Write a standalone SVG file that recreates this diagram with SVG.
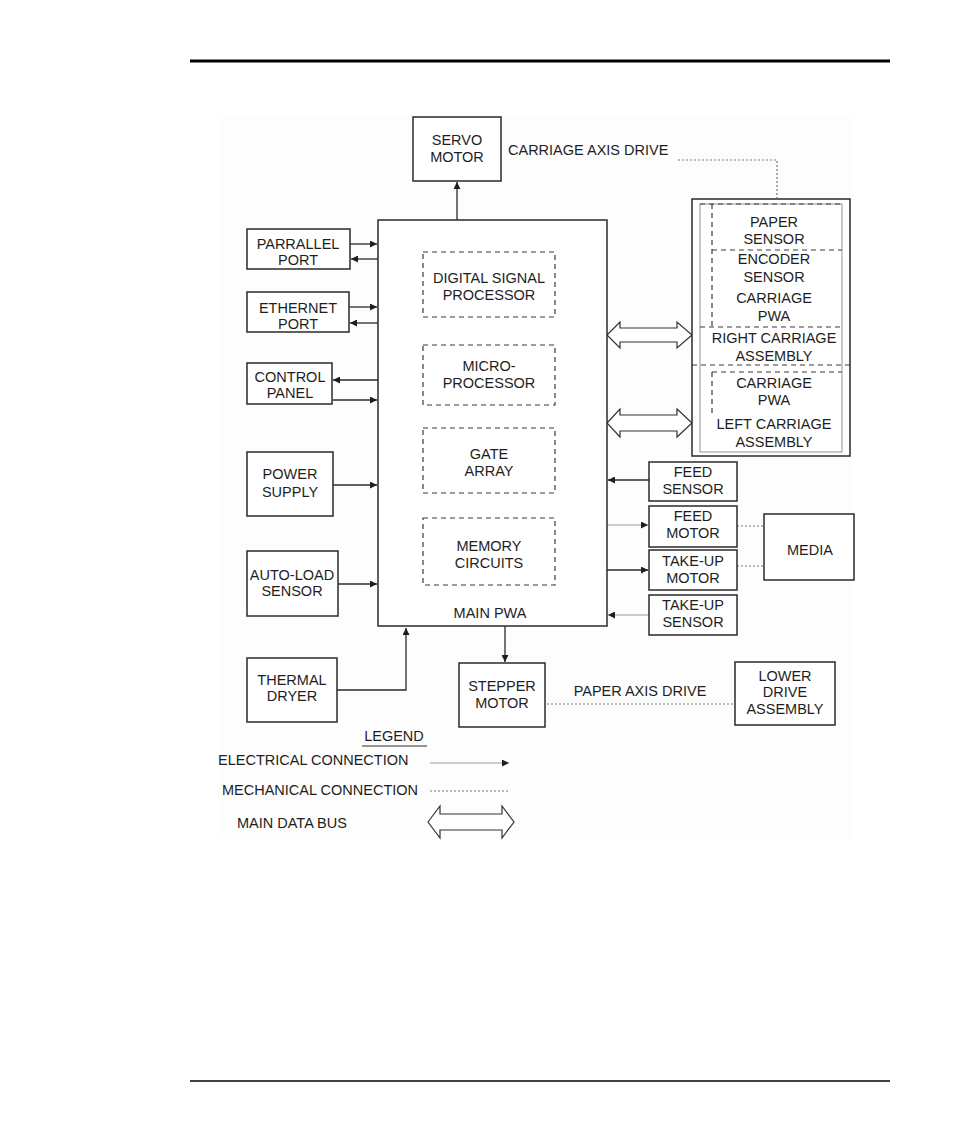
<svg xmlns="http://www.w3.org/2000/svg" width="954" height="1145" viewBox="0 0 954 1145">
<style>
  text { font-family: "Liberation Sans", Arial, sans-serif; font-size: 14.5px; fill: #1e1e1e; text-anchor: middle; }
  .box { fill: #ffffff; stroke: #2a2a2a; stroke-width: 1.5; }
  .inner { fill: none; stroke: #3a3a3a; stroke-width: 1.2; stroke-dasharray: 5 4; }
  .elec { fill: none; stroke: #2a2a2a; stroke-width: 1.3; marker-end: url(#ah); }
  .elecl { fill: none; stroke: #9a9a9a; stroke-width: 1.2; marker-end: url(#ah); }
  .mech { fill: none; stroke: #777; stroke-width: 1.2; stroke-dasharray: 2 2; }
  .bus { fill: #ffffff; stroke: #333; stroke-width: 1.2; }
  .rule { stroke: #000; }
  .left { text-anchor: start; }
</style>
<defs>
  <marker id="ah" viewBox="0 0 10 10" refX="10" refY="5" markerWidth="7" markerHeight="7" markerUnits="userSpaceOnUse" orient="auto">
    <path d="M0,0 L10,5 L0,10 Z" fill="#1e1e1e"/>
  </marker>
</defs>

<line class="rule" x1="190" y1="61" x2="890" y2="61" stroke-width="3"/>
<line class="rule" x1="190" y1="1081" x2="890" y2="1081" stroke-width="1.5"/>
<rect x="218" y="115" width="634" height="723" fill="#fdfdfd"/>

<g id="connectors">
  <line class="elec" x1="457" y1="220" x2="457" y2="182"/>
  <line class="elec" x1="350" y1="244" x2="377" y2="244"/>
  <line class="elec" x1="378" y1="259" x2="351" y2="259"/>
  <line class="elec" x1="349" y1="307" x2="377" y2="307"/>
  <line class="elec" x1="378" y1="323" x2="350" y2="323"/>
  <line class="elec" x1="378" y1="380" x2="333" y2="380"/>
  <line class="elec" x1="333" y1="400" x2="377" y2="400"/>
  <line class="elec" x1="333" y1="485" x2="377" y2="485"/>
  <line class="elec" x1="338" y1="584" x2="377" y2="584"/>
  <path class="elec" d="M337,690 H406 V628"/>
  <line class="elec" x1="505" y1="626" x2="505" y2="662"/>
  <line class="elec" x1="649" y1="480" x2="608" y2="480"/>
  <line class="elecl" x1="607" y1="525" x2="648" y2="525"/>
  <line class="elec" x1="607" y1="570" x2="648" y2="570"/>
  <line class="elecl" x1="649" y1="615" x2="608" y2="615"/>
  <line class="mech" x1="737" y1="526" x2="764" y2="526"/>
  <line class="mech" x1="737" y1="566" x2="764" y2="566"/>
  <line class="mech" x1="547" y1="704" x2="735" y2="704"/>
  <path class="mech" d="M678,160 H777 V198"/>
  <path class="bus" d="M607,335 L620,322 L620,328 L677,328 L677,322 L692,335 L677,348 L677,342 L620,342 L620,348 Z"/>
  <path class="bus" d="M607,423 L620,409 L620,415 L677,415 L677,409 L692,423 L677,437 L677,431 L620,431 L620,437 Z"/>
</g>

<g id="servo-motor">
  <rect class="box" x="413" y="117" width="88" height="64"/>
  <text x="457" y="145">SERVO</text>
  <text x="457" y="162">MOTOR</text>
</g>
<text class="left" x="508" y="155">CARRIAGE AXIS DRIVE</text>

<g id="main-pwa">
  <rect class="box" x="378" y="220" width="229" height="406"/>
  <text x="490" y="618">MAIN PWA</text>
</g>
<g id="dsp">
  <rect class="inner" x="423" y="252" width="132" height="65"/>
  <text x="489" y="283">DIGITAL SIGNAL</text>
  <text x="489" y="300">PROCESSOR</text>
</g>
<g id="micro">
  <rect class="inner" x="423" y="345" width="132" height="60"/>
  <text x="489" y="371">MICRO-</text>
  <text x="489" y="388">PROCESSOR</text>
</g>
<g id="gate-array">
  <rect class="inner" x="423" y="428" width="132" height="65"/>
  <text x="489" y="459">GATE</text>
  <text x="489" y="476">ARRAY</text>
</g>
<g id="memory">
  <rect class="inner" x="423" y="518" width="132" height="67"/>
  <text x="489" y="551">MEMORY</text>
  <text x="489" y="568">CIRCUITS</text>
</g>

<g id="parallel-port">
  <rect class="box" x="247" y="229" width="103" height="40"/>
  <text x="298" y="249">PARRALLEL</text>
  <text x="298" y="265">PORT</text>
</g>
<g id="ethernet-port">
  <rect class="box" x="247" y="292" width="102" height="40"/>
  <text x="298" y="313">ETHERNET</text>
  <text x="298" y="329">PORT</text>
</g>
<g id="control-panel">
  <rect class="box" x="247" y="363" width="85" height="41"/>
  <text x="290" y="382">CONTROL</text>
  <text x="290" y="398">PANEL</text>
</g>
<g id="power-supply">
  <rect class="box" x="247" y="452" width="86" height="64"/>
  <text x="290" y="479">POWER</text>
  <text x="290" y="497">SUPPLY</text>
</g>
<g id="auto-load-sensor">
  <rect class="box" x="247" y="551" width="91" height="65"/>
  <text x="292" y="580">AUTO-LOAD</text>
  <text x="292" y="596">SENSOR</text>
</g>
<g id="thermal-dryer">
  <rect class="box" x="247" y="658" width="90" height="64"/>
  <text x="292" y="685">THERMAL</text>
  <text x="292" y="701">DRYER</text>
</g>
<g id="stepper-motor">
  <rect class="box" x="459" y="663" width="86" height="64"/>
  <text x="502" y="691">STEPPER</text>
  <text x="502" y="708">MOTOR</text>
</g>
<text x="640" y="696">PAPER AXIS DRIVE</text>
<g id="lower-drive-assembly">
  <rect class="box" x="735" y="662" width="100" height="63"/>
  <text x="785" y="681">LOWER</text>
  <text x="785" y="697">DRIVE</text>
  <text x="785" y="714">ASSEMBLY</text>
</g>

<g id="feed-sensor">
  <rect class="box" x="649" y="462" width="88" height="39"/>
  <text x="693" y="477">FEED</text>
  <text x="693" y="494">SENSOR</text>
</g>
<g id="feed-motor">
  <rect class="box" x="649" y="506" width="88" height="41"/>
  <text x="693" y="521">FEED</text>
  <text x="693" y="538">MOTOR</text>
</g>
<g id="take-up-motor">
  <rect class="box" x="649" y="550" width="88" height="40"/>
  <text x="693" y="566">TAKE-UP</text>
  <text x="693" y="583">MOTOR</text>
</g>
<g id="take-up-sensor">
  <rect class="box" x="649" y="595" width="88" height="40"/>
  <text x="693" y="610">TAKE-UP</text>
  <text x="693" y="627">SENSOR</text>
</g>
<g id="media">
  <rect class="box" x="764" y="514" width="90" height="66"/>
  <text x="810" y="555">MEDIA</text>
</g>

<g id="carriage-assemblies">
  <rect class="box" x="692" y="199" width="158" height="257"/>
  <rect x="700" y="204" width="142" height="248" fill="none" stroke="#777" stroke-width="0.8"/>
  <line class="inner" x1="700" y1="204" x2="842" y2="204" stroke-dasharray="4 2"/>
  <line class="inner" x1="712" y1="204" x2="712" y2="327" stroke-dasharray="3 4" stroke="#888"/>
  <line class="inner" x1="712" y1="250" x2="842" y2="250" stroke-dasharray="4 3"/>
  <line class="inner" x1="700" y1="327" x2="842" y2="327" stroke-dasharray="4 3"/>
  <line class="inner" x1="692" y1="365" x2="850" y2="365" stroke-dasharray="2 1.5"/>
  <line class="inner" x1="712" y1="372" x2="842" y2="372" stroke-dasharray="4 3"/>
  <line class="inner" x1="712" y1="372" x2="712" y2="413" stroke-dasharray="3 4" stroke="#888"/>
  <text x="774" y="227">PAPER</text>
  <text x="774" y="244">SENSOR</text>
  <text x="774" y="264">ENCODER</text>
  <text x="774" y="282">SENSOR</text>
  <text x="774" y="303">CARRIAGE</text>
  <text x="774" y="321">PWA</text>
  <text x="774" y="343">RIGHT CARRIAGE</text>
  <text x="774" y="361">ASSEMBLY</text>
  <text x="774" y="388">CARRIAGE</text>
  <text x="774" y="405">PWA</text>
  <text x="774" y="429">LEFT CARRIAGE</text>
  <text x="774" y="447">ASSEMBLY</text>
</g>

<g id="legend">
  <text x="394" y="741">LEGEND</text>
  <line x1="362" y1="746" x2="427" y2="746" stroke="#2a2a2a" stroke-width="1.2"/>
  <text class="left" x="218" y="765">ELECTRICAL CONNECTION</text>
  <line class="elecl" x1="430" y1="763" x2="509" y2="763" stroke="#aaa"/>
  <text class="left" x="222" y="795">MECHANICAL CONNECTION</text>
  <line class="mech" x1="430" y1="791" x2="508" y2="791" stroke="#bbb"/>
  <text class="left" x="237" y="828">MAIN DATA BUS</text>
  <path class="bus" d="M428,822 L440,806 L440,814 L502,814 L502,806 L514,822 L502,838 L502,830 L440,830 L440,838 Z"/>
</g>
</svg>
